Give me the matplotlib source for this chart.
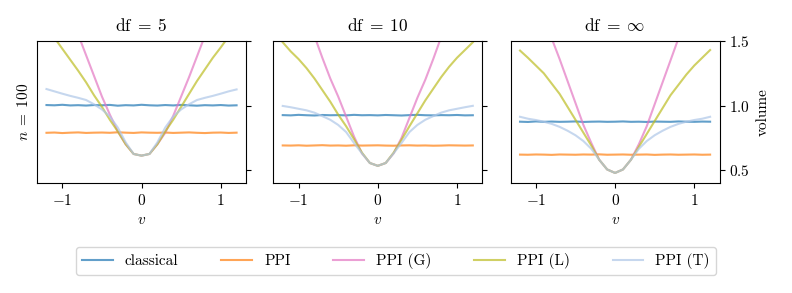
import numpy as np
import matplotlib
matplotlib.use("Agg")
import matplotlib.pyplot as plt

plt.rcParams["font.family"] = "serif"
plt.rcParams["font.serif"] = ["cmr10"]
plt.rcParams["mathtext.fontset"] = "cm"
plt.rcParams["axes.formatter.use_mathtext"] = True
plt.rcParams["font.size"] = 11

# grid of v values, -1.2 .. 1.2
v = np.round(np.linspace(-1.2, 1.2, 25), 2)

titles = [r"$\mathrm{df}\;=\;5$", r"$\mathrm{df}\;=\;10$", r"$\mathrm{df}\;=\;\infty$"]
labels = ["classical", "PPI", "PPI (G)", "PPI (L)", "PPI (T)"]
colors = ["tab:blue", "tab:orange", "tab:pink", "tab:olive", "#aec7e8"]

# df = 5
classical_5 = [1.004, 1.002, 1.006, 1.001, 1.003, 1.000, 1.004, 1.002, 1.005, 0.999, 1.003, 1.001, 1.006,
               1.002, 1.000, 1.004, 1.001, 1.005, 1.002, 0.999, 1.003, 1.001, 1.004, 1.000, 1.002]
ppi_5 = [0.789, 0.791, 0.787, 0.790, 0.792, 0.788, 0.790, 0.791, 0.789, 0.793, 0.790, 0.788, 0.792,
         0.790, 0.789, 0.791, 0.788, 0.790, 0.792, 0.789, 0.787, 0.790, 0.791, 0.788, 0.790]
ppi_g_5 = [2.19, 2.03, 1.87, 1.71, 1.55, 1.39, 1.23, 1.07, 0.93, 0.80, 0.70, 0.625, 0.612,
           0.625, 0.70, 0.79, 0.92, 1.07, 1.22, 1.38, 1.54, 1.70, 1.86, 2.02, 2.18]
ppi_l_5 = [1.61, 1.525, 1.44, 1.355, 1.27, 1.18, 1.08, 0.99, 0.89, 0.80, 0.70, 0.625, 0.612,
           0.625, 0.70, 0.80, 0.89, 0.99, 1.09, 1.19, 1.28, 1.37, 1.45, 1.535, 1.62]
ppi_t_5 = [1.128, 1.11, 1.092, 1.075, 1.06, 1.043, 1.01, 0.97, 0.915, 0.83, 0.715, 0.625, 0.612,
           0.625, 0.715, 0.83, 0.915, 0.97, 1.01, 1.043, 1.06, 1.075, 1.092, 1.11, 1.125]

# df = 10
classical_10 = [0.926, 0.924, 0.928, 0.925, 0.923, 0.927, 0.925, 0.926, 0.924, 0.928, 0.925, 0.926, 0.924,
                0.927, 0.925, 0.923, 0.926, 0.928, 0.925, 0.924, 0.926, 0.925, 0.927, 0.924, 0.925]
ppi_10 = [0.691, 0.690, 0.692, 0.689, 0.691, 0.693, 0.690, 0.691, 0.689, 0.692, 0.690, 0.691, 0.692,
          0.690, 0.689, 0.691, 0.692, 0.690, 0.691, 0.689, 0.690, 0.692, 0.691, 0.690, 0.691]
ppi_g_10 = [2.18, 2.02, 1.86, 1.70, 1.54, 1.37, 1.21, 1.07, 0.915, 0.76, 0.63, 0.555, 0.533,
            0.555, 0.63, 0.75, 0.905, 1.06, 1.20, 1.36, 1.53, 1.69, 1.85, 2.01, 2.17]
ppi_l_10 = [1.49, 1.42, 1.36, 1.29, 1.21, 1.12, 1.03, 0.93, 0.84, 0.74, 0.635, 0.555, 0.533,
            0.555, 0.635, 0.735, 0.84, 0.94, 1.04, 1.13, 1.22, 1.30, 1.37, 1.43, 1.49]
ppi_t_10 = [0.997, 0.987, 0.975, 0.963, 0.945, 0.918, 0.89, 0.85, 0.795, 0.71, 0.63, 0.555, 0.533,
            0.555, 0.63, 0.71, 0.795, 0.85, 0.89, 0.918, 0.945, 0.963, 0.975, 0.987, 0.998]

# df = inf
classical_inf = [0.875, 0.873, 0.877, 0.874, 0.876, 0.874, 0.875, 0.877, 0.873, 0.875, 0.876, 0.874, 0.875,
                 0.877, 0.874, 0.875, 0.873, 0.876, 0.875, 0.874, 0.877, 0.875, 0.874, 0.876, 0.875]
ppi_inf = [0.620, 0.619, 0.621, 0.620, 0.618, 0.621, 0.620, 0.619, 0.621, 0.620, 0.622, 0.619, 0.620,
           0.621, 0.619, 0.620, 0.621, 0.618, 0.620, 0.621, 0.619, 0.620, 0.621, 0.619, 0.620]
ppi_g_inf = [2.20, 2.03, 1.86, 1.69, 1.52, 1.36, 1.19, 1.02, 0.85, 0.71, 0.58, 0.505, 0.478,
             0.505, 0.58, 0.70, 0.84, 1.01, 1.18, 1.35, 1.52, 1.69, 1.86, 2.03, 2.20]
ppi_l_inf = [1.426, 1.37, 1.31, 1.25, 1.17, 1.09, 0.99, 0.89, 0.79, 0.69, 0.58, 0.505, 0.478,
             0.505, 0.58, 0.68, 0.78, 0.88, 0.98, 1.08, 1.16, 1.24, 1.31, 1.37, 1.43]
ppi_t_inf = [0.913, 0.898, 0.888, 0.875, 0.858, 0.835, 0.805, 0.77, 0.725, 0.665, 0.58, 0.505, 0.478,
             0.505, 0.58, 0.665, 0.725, 0.77, 0.805, 0.835, 0.858, 0.875, 0.888, 0.898, 0.913]

panels = [
    [classical_5, ppi_5, ppi_g_5, ppi_l_5, ppi_t_5],
    [classical_10, ppi_10, ppi_g_10, ppi_l_10, ppi_t_10],
    [classical_inf, ppi_inf, ppi_g_inf, ppi_l_inf, ppi_t_inf],
]

fig = plt.figure(figsize=(7.92, 2.93), dpi=100)
lefts = [0.0467, 0.345, 0.6446]
axes = [fig.add_axes([l, 0.3754, 0.264, 0.4846]) for l in lefts]

for i, ax in enumerate(axes):
    for series, lab, col in zip(panels[i], labels, colors):
        ax.plot(v, series, color=col, alpha=0.7, lw=1.5, label=lab)
    ax.set_ylim(0.4, 1.5)
    ax.set_yticks([0.5, 1.0, 1.5])
    ax.set_xticks([-1, 0, 1])
    ax.yaxis.tick_right()
    ax.set_title(titles[i], fontsize=12.5, pad=7)
    ax.set_xlabel(r"$v$")
    if i < 2:
        ax.set_yticklabels([])

axes[0].set_ylabel(r"$n\;=\;100$")
axes[2].yaxis.set_label_position("right")
axes[2].set_ylabel("volume")

handles, labs = axes[0].get_legend_handles_labels()
fig.legend(handles, labs, loc="lower center", bbox_to_anchor=(0.5, 0.035), ncol=5,
           columnspacing=2.8, handlelength=2.0)

fig.savefig("out.png", dpi=100)
